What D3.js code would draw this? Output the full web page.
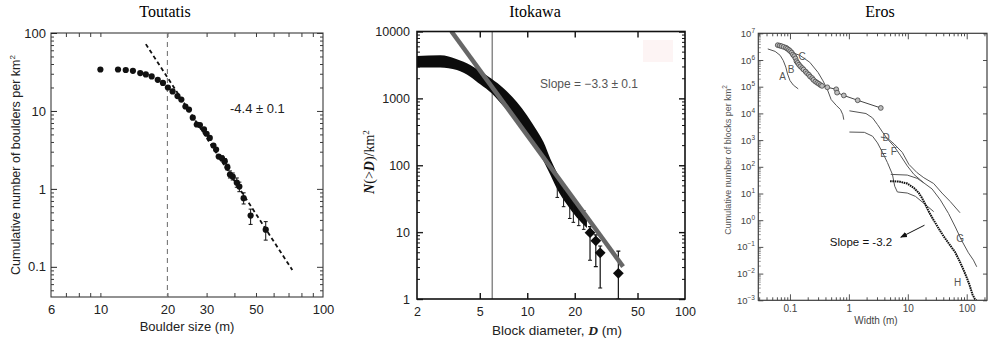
<!DOCTYPE html>
<html>
<head>
<meta charset="utf-8">
<script src="https://cdn.jsdelivr.net/npm/d3@7"></script>
<style>
  body { margin: 0; background: #fff; }
  svg { display: block; }
</style>
</head>
<body>
<svg id="chart"></svg>
<script>
// ---------- Toutatis ----------
const toutSize = [10, 12, 13, 14, 15.1, 16, 17, 18.1, 19.1, 20.1, 21.1, 22.2, 23.1, 24.1, 25, 26, 27.1, 28, 29.2, 30, 31, 32.2, 33.1, 34, 35.2, 36.2, 37.2, 38.2, 39.3, 41, 42.1, 44, 47.3, 55.3];
const toutDensity = [34, 34, 33.5, 32.7, 30.6, 29.4, 27.7, 25.1, 22.9, 20, 17.8, 15.5, 14, 11.4, 10.4, 8.2, 6.7, 6.6, 5.8, 5.1, 4.5, 3.6, 3.2, 2.6, 2.46, 2.27, 1.9, 1.53, 1.44, 1.2, 1.07, 0.76, 0.455, 0.30];
const toutErrLo = [null, null, null, null, null, null, null, null, null, null, null, null, null, null, null, null, null, null, null, null, null, null, null, null, 2.3, 2.1, 1.75, 1.38, 1.3, 1.05, 0.92, 0.64, 0.35, 0.22];
const toutErrHi = [null, null, null, null, null, null, null, null, null, null, null, null, null, null, null, null, null, null, null, null, null, null, null, null, 2.65, 2.45, 2.07, 1.7, 1.6, 1.38, 1.22, 0.89, 0.55, 0.38];
const toutFitSize = [16, 72.8];
const toutFitDensity = [72, 0.091];
const toutCut = 20;
const toutXTicks = [6, 10, 20, 30, 50, 100];
const toutYTicks = [0.1, 1, 10, 100];

// ---------- Itokawa ----------
const itoBandD = [2.0, 2.81, 3.58, 4.35, 5.03, 5.97, 7.07, 8.59, 9.95, 11.5, 12.7, 14.0, 15.4, 17.8, 20.6, 23.9];
const itoBandHi = [4300, 4400, 3830, 3150, 2550, 1950, 1420, 880, 560, 330, 220, 125, 78, 42, 26, 18];
const itoBandLo = [2900, 2900, 2650, 2110, 1620, 1180, 760, 470, 290, 172, 115, 72, 45, 26, 16.5, 11.5];
const itoBarD = [15.5, 17.0, 18.6, 19.6, 21.2, 22.8];
const itoBarLo = [33, 24, 16, 14, 12.5, 11];
const itoBarHi = [62, 44, 33, 29, 25, 21];
const itoDiaD = [25.0, 27.2, 29.0, 37.8];
const itoDiaN = [9.8, 7.4, 4.9, 2.42];
const itoDiaLo = [3.8, 3.05, 1.46, 1.0];
const itoDiaHi = [12.1, 9.1, 6.2, 5.2];
const itoFitD = [3.3, 40.5];
const itoFitN = [10100, 3.05];
const itoCut = 6;
const itoXTicks = [2, 5, 10, 20, 50, 100];
const itoYTicks = [1, 10, 100, 1000, 10000];

// ---------- Eros ----------
const erosAW = [0.042, 0.056, 0.068, 0.077, 0.085, 0.091, 0.1, 0.114, 0.138];
const erosAN = [2.6e6, 2.1e6, 1.5e6, 9.5e5, 5.4e5, 3.0e5, 1.7e5, 1.15e5, 8.3e4];
const erosCW = [0.094, 0.147, 0.217, 0.30, 0.364, 0.43, 0.50, 0.61, 0.72, 0.79, 0.82];
const erosCN = [2.1e6, 1.5e6, 8.2e5, 3.4e5, 1.65e5, 8e4, 3.3e4, 2e4, 1.4e4, 8.9e3, 5.8e3];
const erosBW = [0.062, 0.067, 0.072, 0.078, 0.085, 0.09, 0.096, 0.101, 0.107, 0.112, 0.118, 0.124, 0.129, 0.135, 0.142, 0.15, 0.161, 0.17, 0.184, 0.195, 0.209, 0.22, 0.238, 0.25, 0.27, 0.29, 0.31, 0.33, 0.35, 0.43, 0.61, 0.63, 0.82, 1.41, 3.48];
const erosBN = [3.6e6, 3.45e6, 3.3e6, 3.1e6, 2.9e6, 2.65e6, 2.4e6, 2.15e6, 1.9e6, 1.6e6, 1.4e6, 1.15e6, 9e5, 7.8e5, 6.7e5, 5.8e5, 5e5, 4.4e5, 3.7e5, 3.2e5, 2.8e5, 2.4e5, 2.1e5, 1.8e5, 1.56e5, 1.4e5, 1.28e5, 1.15e5, 1.07e5, 9.5e4, 8e4, 6e4, 4.7e4, 3.1e4, 1.6e4];
const erosDW = [1.02, 1.95, 2.52, 3.06, 3.72, 4.51, 5.85, 7.57, 9.8, 12.7, 16.4, 18.7];
const erosDN = [1.25e4, 9.9e3, 6.8e3, 3.8e3, 2.0e3, 1.1e3, 585, 258, 108, 52, 32, 25];
const erosEW = [1.02, 1.83, 2.52, 3.06, 3.72, 4.51, 5.48, 6.0, 6.65, 9.8, 13.5, 18.7, 27.5];
const erosEN = [2.0e3, 1.95e3, 1.4e3, 783, 346, 144, 52, 18.7, 11.4, 10.4, 7.8, 4.3, 2.1];
const erosFW = [3.48, 4.51, 5.85, 8.07, 10.4, 14.4, 18.7, 27.5, 38, 52.5, 77];
const erosFN = [1.3e3, 1.18e3, 718, 346, 124, 60, 39, 23.6, 10.4, 5.0, 1.9];
const erosGW = [5.14, 9.8, 14.4, 18.7, 25.8, 35.6, 49, 64, 82, 107, 130, 148];
const erosGN = [52, 49, 37, 25, 14.8, 5.8, 1.8, 0.56, 0.175, 0.06, 0.032, 0.018];
const erosHW = [5.0, 7.1, 9.8, 12.7, 15.4, 17.5, 20, 22.7, 27.5, 33.4, 40.6, 52.5, 63.7, 75.3, 85.7, 97.5, 111, 126, 138, 146];
const erosHN = [28.9, 28.1, 23.6, 16.1, 10.4, 6.7, 3.75, 2.1, 1.0, 0.49, 0.25, 0.113, 0.063, 0.030, 0.016, 0.0082, 0.0039, 0.0016, 0.0011, 0.001];
const erosLabels = ['A', 'B', 'C', 'D', 'E', 'F', 'G', 'H'];
const erosLabelW = [0.075, 0.104, 0.16, 4.3, 3.9, 5.8, 77, 70];
const erosLabelN = [2.5e5, 4.5e5, 1.4e6, 1.3e3, 320, 380, 0.2, 0.0048];
const erosArrowW = [19.2, 7.6];
const erosArrowN = [0.65, 0.23];
const erosXTicks = [0.1, 1, 10, 100];
const erosYExp = [-3, -2, -1, 0, 1, 2, 3, 4, 5, 6, 7];

const W = 989, H = 345;
const sans = 'Liberation Sans, Arial, Helvetica, sans-serif';
const serif = 'Liberation Serif, Times New Roman, serif';

const svg = d3.select('#chart').attr('width', W).attr('height', H);
svg.append('rect').attr('width', W).attr('height', H).attr('fill', '#fff');

// 1..9 x 10^k values inside a domain (tick marks only)
function logSteps(lo, hi) {
  const out = [];
  for (let e = Math.floor(Math.log10(lo)); e <= Math.ceil(Math.log10(hi)); e++) {
    for (let m = 1; m < 10; m++) {
      const v = +(m * Math.pow(10, e)).toPrecision(3);
      if (v > lo * 1.001 && v < hi * 0.999) out.push(v);
    }
  }
  return out;
}
const notIn = list => v => !list.some(u => Math.abs(u - v) / u < 1e-6);

// tick marks drawn inward, no labels
function tickMarks(g, axis, scale, at, vals, len, color, sw) {
  const horiz = axis === d3.axisBottom || axis === d3.axisTop;
  g.append('g')
    .attr('transform', horiz ? `translate(0,${at})` : `translate(${at},0)`)
    .call(axis(scale).tickValues(vals).tickSize(-len).tickFormat(''))
    .call(a => a.select('.domain').remove())
    .call(a => a.selectAll('line').attr('stroke', color).attr('stroke-width', sw));
}

// labelled axis (ticks inward)
function tickLabels(g, axis, scale, at, vals, len, pad, size, color, sw) {
  const horiz = axis === d3.axisBottom || axis === d3.axisTop;
  g.append('g')
    .attr('transform', horiz ? `translate(0,${at})` : `translate(${at},0)`)
    .call(axis(scale).tickValues(vals).tickSize(-len).tickPadding(pad).tickFormat(d3.format('~g')))
    .call(a => a.select('.domain').remove())
    .call(a => a.selectAll('line').attr('stroke', color).attr('stroke-width', sw))
    .attr('font-family', sans)
    .attr('font-size', size)
    .attr('color', color);
}

// ================= Toutatis =================
const tx = d3.scaleLog().domain([6, 100]).range([51, 323]);
const ty = d3.scaleLog().domain([0.041, 100]).range([297, 33]);
const tout = svg.append('g');
const tCol = '#3a3a3a';

tout.append('rect')
  .attr('x', 51).attr('y', 33).attr('width', 272).attr('height', 264)
  .attr('fill', 'none').attr('stroke', tCol).attr('stroke-width', 1.1);

const tXMinor = logSteps(6, 100);
tickMarks(tout, d3.axisBottom, tx, 297, tXMinor, 4, tCol, 1);
tickMarks(tout, d3.axisTop, tx, 33, tXMinor, 4, tCol, 1);
const tYMinor = logSteps(0.041, 100).filter(notIn(toutYTicks));
tickMarks(tout, d3.axisLeft, ty, 51, tYMinor, 3, tCol, 1);
tickMarks(tout, d3.axisRight, ty, 323, tYMinor, 3, tCol, 1);
tickMarks(tout, d3.axisRight, ty, 323, toutYTicks, 6, tCol, 1);
tickLabels(tout, d3.axisBottom, tx, 297, toutXTicks, 0, 8, 13, '#222', 1);
tickLabels(tout, d3.axisLeft, ty, 51, toutYTicks, 6, 5, 13, '#222', 1);

tout.append('line')
  .attr('x1', tx(toutCut)).attr('x2', tx(toutCut))
  .attr('y1', 33).attr('y2', 297)
  .attr('stroke', '#777').attr('stroke-width', 1.1).attr('stroke-dasharray', '5,4');

tout.append('line')
  .attr('x1', tx(toutFitSize[0])).attr('y1', ty(toutFitDensity[0]))
  .attr('x2', tx(toutFitSize[1])).attr('y2', ty(toutFitDensity[1]))
  .attr('stroke', '#111').attr('stroke-width', 1.8).attr('stroke-dasharray', '4,3');

const toutPts = toutSize.map((s, i) => ({ s, n: toutDensity[i], lo: toutErrLo[i], hi: toutErrHi[i] }));
const toutErr = toutPts.filter(d => d.lo !== null);
tout.selectAll('.tbar').data(toutErr).join('path')
  .attr('class', 'tbar')
  .attr('d', d => {
    const x = tx(d.s), y0 = ty(d.lo), y1 = ty(d.hi);
    return `M${x},${y0}V${y1}M${x - 2},${y0}H${x + 2}M${x - 2},${y1}H${x + 2}`;
  })
  .attr('stroke', '#111').attr('stroke-width', 1).attr('fill', 'none');
tout.selectAll('.tdot').data(toutPts).join('circle')
  .attr('class', 'tdot')
  .attr('cx', d => tx(d.s)).attr('cy', d => ty(d.n))
  .attr('r', 3.1).attr('fill', '#111');

tout.append('text')
  .attr('x', 230).attr('y', 113)
  .attr('font-family', sans).attr('font-size', 13).attr('fill', '#222')
  .text('-4.4 ± 0.1');

tout.append('text')
  .attr('transform', 'translate(20,165) rotate(-90)')
  .attr('text-anchor', 'middle')
  .attr('font-family', sans).attr('font-size', 12.5).attr('fill', '#222')
  .text('Cumulative number of boulders per km')
  .append('tspan').attr('dy', -5).attr('font-size', 8).text('2');

tout.append('text')
  .attr('x', 187).attr('y', 331)
  .attr('text-anchor', 'middle')
  .attr('font-family', sans).attr('font-size', 13).attr('fill', '#222')
  .text('Boulder size (m)');

svg.append('text')
  .attr('x', 165).attr('y', 17)
  .attr('text-anchor', 'middle')
  .attr('font-family', serif).attr('font-size', 16)
  .text('Toutatis');

// ================= Itokawa =================
const ix = d3.scaleLog().domain([2, 100]).range([417, 685]);
const iy = d3.scaleLog().domain([1, 10000]).range([299, 31.5]);
const ito = svg.append('g');
const iCol = '#111';

svg.append('clipPath').attr('id', 'clipIto')
  .append('rect').attr('x', 417).attr('y', 31.5).attr('width', 268).attr('height', 267.5);

ito.append('rect')
  .attr('x', 643).attr('y', 40).attr('width', 30).attr('height', 22)
  .attr('fill', '#fdf4f4');

const iXMaj = [5, 10, 20, 50];
tickMarks(ito, d3.axisBottom, ix, 299, iXMaj, 6, iCol, 1.4);
tickMarks(ito, d3.axisTop, ix, 31.5, iXMaj, 6, iCol, 1.4);
const iYMinor = logSteps(1, 10000).filter(notIn(itoYTicks));
tickMarks(ito, d3.axisLeft, iy, 417, iYMinor, 3, iCol, 1);
tickMarks(ito, d3.axisRight, iy, 685, iYMinor, 3, iCol, 1);
tickMarks(ito, d3.axisRight, iy, 685, itoYTicks, 6, iCol, 1.4);
tickLabels(ito, d3.axisBottom, ix, 299, itoXTicks, 0, 8, 12.5, '#222', 1.4);
tickLabels(ito, d3.axisLeft, iy, 417, itoYTicks, 6, 7, 12.5, '#222', 1.4);

ito.append('line')
  .attr('x1', ix(itoCut)).attr('x2', ix(itoCut))
  .attr('y1', 31.5).attr('y2', 299)
  .attr('stroke', '#8a8a8a').attr('stroke-width', 1.5);

const band = itoBandD.map((d, i) => ({ d, lo: itoBandLo[i], hi: itoBandHi[i] }));
ito.append('path')
  .datum(band)
  .attr('clip-path', 'url(#clipIto)')
  .attr('fill', '#0c0c0c')
  .attr('d', d3.area()
    .x(d => ix(d.d))
    .y0(d => iy(d.lo))
    .y1(d => iy(d.hi))
    .curve(d3.curveMonotoneX));

const capPath = (x, y0, y1, w) =>
  `M${x},${y0}V${y1}M${x - w},${y0}H${x + w}M${x - w},${y1}H${x + w}`;

ito.selectAll('.ibar').data(itoBarD.map((d, i) => ({ d, lo: itoBarLo[i], hi: itoBarHi[i] })))
  .join('path').attr('class', 'ibar')
  .attr('d', d => capPath(ix(d.d), iy(d.lo), iy(d.hi), 1.8))
  .attr('stroke', '#111').attr('stroke-width', 1).attr('fill', 'none');

const dia = itoDiaD.map((d, i) => ({ d, n: itoDiaN[i], lo: itoDiaLo[i], hi: itoDiaHi[i] }));
ito.selectAll('.dbar').data(dia).join('path').attr('class', 'dbar')
  .attr('clip-path', 'url(#clipIto)')
  .attr('d', d => capPath(ix(d.d), iy(d.lo), iy(d.hi), 2))
  .attr('stroke', '#111').attr('stroke-width', 1.2).attr('fill', 'none');

ito.append('line')
  .attr('clip-path', 'url(#clipIto)')
  .attr('x1', ix(itoFitD[0])).attr('y1', iy(itoFitN[0]))
  .attr('x2', ix(itoFitD[1])).attr('y2', iy(itoFitN[1]))
  .attr('stroke', '#676767').attr('stroke-width', 4.5);

ito.selectAll('.dia').data(dia).join('path').attr('class', 'dia')
  .attr('transform', d => `translate(${ix(d.d)},${iy(d.n)}) rotate(45)`)
  .attr('d', d3.symbol(d3.symbolSquare, 58))
  .attr('fill', '#0c0c0c');

ito.append('rect')
  .attr('x', 417).attr('y', 31.5).attr('width', 268).attr('height', 267.5)
  .attr('fill', 'none').attr('stroke', iCol).attr('stroke-width', 1.6);

ito.append('text')
  .attr('x', 540).attr('y', 87.5)
  .attr('font-family', sans).attr('font-size', 12).attr('fill', '#555')
  .text('Slope = \u22123.3 ± 0.1');

const iyLab = ito.append('text')
  .attr('transform', 'translate(374,162) rotate(-90)')
  .attr('text-anchor', 'middle')
  .attr('font-family', serif).attr('font-size', 14).attr('fill', '#111');
iyLab.append('tspan').attr('font-style', 'italic').attr('font-weight', 'bold').text('N');
iyLab.append('tspan').text('(>');
iyLab.append('tspan').attr('font-style', 'italic').attr('font-weight', 'bold').text('D');
iyLab.append('tspan').text(')/km');
iyLab.append('tspan').attr('dy', -5).attr('font-size', 9).text('2');

const ixLab = ito.append('text')
  .attr('x', 557).attr('y', 335)
  .attr('text-anchor', 'middle')
  .attr('font-family', sans).attr('font-size', 13.5).attr('fill', '#222');
ixLab.append('tspan').text('Block diameter, ');
ixLab.append('tspan').attr('font-family', serif).attr('font-style', 'italic').attr('font-weight', 'bold').text('D');
ixLab.append('tspan').text(' (m)');

svg.append('text')
  .attr('x', 535).attr('y', 17)
  .attr('text-anchor', 'middle')
  .attr('font-family', serif).attr('font-size', 16)
  .text('Itokawa');

// ================= Eros =================
const ex = d3.scaleLog().domain([0.029, 221]).range([758.3, 987]);
const ey = d3.scaleLog().domain([1e-3, 1e7]).range([300.3, 33.3]);
const eros = svg.append('g');
const eCol = '#3c3c3c';

svg.append('clipPath').attr('id', 'clipEros')
  .append('rect').attr('x', 758.3).attr('y', 33.3).attr('width', 228.7).attr('height', 267);

const eXMinor = logSteps(0.029, 221).filter(notIn(erosXTicks));
tickMarks(eros, d3.axisBottom, ex, 300.3, eXMinor, 3, eCol, 0.9);
tickMarks(eros, d3.axisTop, ex, 33.3, eXMinor, 3, eCol, 0.9);
tickMarks(eros, d3.axisTop, ex, 33.3, erosXTicks, 6, eCol, 0.9);
const eYMaj = erosYExp.map(e => Math.pow(10, e));
const eYMinor = logSteps(1e-3, 1e7).filter(notIn(eYMaj));
tickMarks(eros, d3.axisLeft, ey, 758.3, eYMinor, 2.5, '#666', 0.7);
tickMarks(eros, d3.axisLeft, ey, 758.3, eYMaj, 5, eCol, 0.9);
tickMarks(eros, d3.axisRight, ey, 987, eYMaj, 4, eCol, 0.9);
tickLabels(eros, d3.axisBottom, ex, 300.3, erosXTicks, 6, 5, 10, '#444', 0.9);

eros.selectAll('.eyl').data(erosYExp).join('text')
  .attr('class', 'eyl')
  .attr('x', 755).attr('y', e => ey(Math.pow(10, e)) + 3.5)
  .attr('text-anchor', 'end')
  .attr('font-family', sans).attr('font-size', 9.5).attr('fill', '#444')
  .text('10')
  .append('tspan')
  .attr('dy', -4).attr('font-size', 6.5)
  .text(e => String(e).replace('-', '\u2212'));

const eLine = d3.line().x(d => ex(d[0])).y(d => ey(d[1]));
const zip = (a, b) => a.map((v, i) => [v, b[i]]);
const grayCurves = [
  zip(erosAW, erosAN), zip(erosCW, erosCN), zip(erosDW, erosDN),
  zip(erosEW, erosEN), zip(erosFW, erosFN), zip(erosGW, erosGN)
];
eros.selectAll('.ecurve').data(grayCurves).join('path')
  .attr('class', 'ecurve')
  .attr('clip-path', 'url(#clipEros)')
  .attr('d', eLine)
  .attr('fill', 'none').attr('stroke', '#555').attr('stroke-width', 1);

const bPts = zip(erosBW, erosBN);
eros.append('path').datum(bPts)
  .attr('d', eLine)
  .attr('fill', 'none').attr('stroke', '#444').attr('stroke-width', 1);
eros.selectAll('.ecirc').data(bPts).join('circle')
  .attr('class', 'ecirc')
  .attr('cx', d => ex(d[0])).attr('cy', d => ey(d[1]))
  .attr('r', 2.4).attr('fill', '#bdbdbd').attr('stroke', '#444').attr('stroke-width', 0.8);

eros.append('path').datum(zip(erosHW, erosHN))
  .attr('clip-path', 'url(#clipEros)')
  .attr('d', eLine)
  .attr('fill', 'none').attr('stroke', '#111').attr('stroke-width', 2)
  .attr('stroke-dasharray', '1.6,0.7');

eros.selectAll('.elab').data(erosLabels).join('text')
  .attr('class', 'elab')
  .attr('x', (d, i) => ex(erosLabelW[i])).attr('y', (d, i) => ey(erosLabelN[i]) + 3.5)
  .attr('text-anchor', 'middle')
  .attr('font-family', sans).attr('font-size', 10).attr('fill', '#555')
  .text(d => d);

eros.append('rect')
  .attr('x', 758.3).attr('y', 33.3).attr('width', 228.7).attr('height', 267)
  .attr('fill', 'none').attr('stroke', eCol).attr('stroke-width', 1.2);

svg.append('defs').append('marker')
  .attr('id', 'arrow').attr('viewBox', '0 0 10 10')
  .attr('refX', 9).attr('refY', 5)
  .attr('markerWidth', 7).attr('markerHeight', 7)
  .attr('orient', 'auto')
  .append('path').attr('d', 'M0,1L10,5L0,9Z').attr('fill', '#111');

eros.append('line')
  .attr('x1', ex(erosArrowW[0])).attr('y1', ey(erosArrowN[0]))
  .attr('x2', ex(erosArrowW[1])).attr('y2', ey(erosArrowN[1]))
  .attr('stroke', '#111').attr('stroke-width', 1)
  .attr('marker-end', 'url(#arrow)');

eros.append('text')
  .attr('x', 861).attr('y', 246)
  .attr('text-anchor', 'middle')
  .attr('font-family', sans).attr('font-size', 11.5).attr('fill', '#111')
  .text('Slope = -3.2');

eros.append('text')
  .attr('transform', 'translate(731,160) rotate(-90)')
  .attr('text-anchor', 'middle')
  .attr('font-family', sans).attr('font-size', 9).attr('fill', '#555')
  .text('Cumulative number of blocks per km')
  .append('tspan').attr('dy', -4).attr('font-size', 6.5).text('2');

eros.append('text')
  .attr('x', 876).attr('y', 323.5)
  .attr('text-anchor', 'middle')
  .attr('font-family', sans).attr('font-size', 10).attr('fill', '#444')
  .text('Width (m)');

svg.append('text')
  .attr('x', 880).attr('y', 17)
  .attr('text-anchor', 'middle')
  .attr('font-family', serif).attr('font-size', 16)
  .text('Eros');
</script>
</body>
</html>
